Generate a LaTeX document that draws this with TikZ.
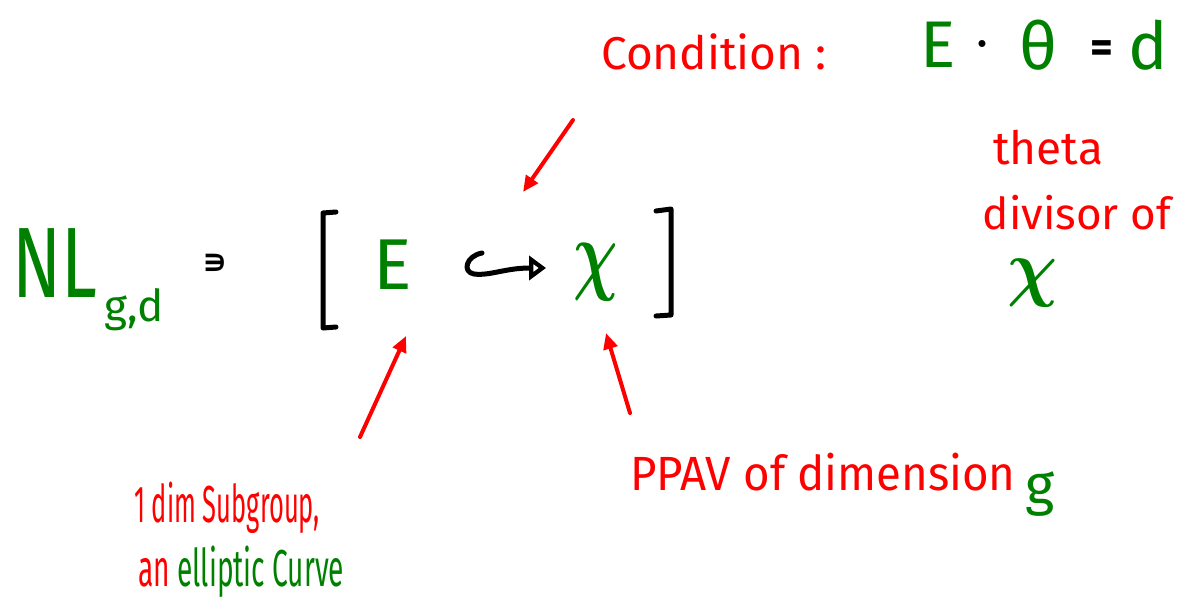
\documentclass[tikz,border=0pt]{standalone}
\usepackage{fontspec}
\usepackage{graphicx}
\setmainfont{Fira Sans}
\newfontfamily\symfont{DejaVu Sans}
\usetikzlibrary{arrows.meta}
\newcommand\fsz[1]{\fontsize{#1}{#1}\selectfont}
\newcommand\hchi[2]{\scalebox{#1}[#2]{\normalsize\boldmath$\chi$}}
\definecolor{hgreen}{RGB}{0,128,0}
\definecolor{hred}{RGB}{255,0,0}
\tikzset{
  lbl/.style={inner sep=0pt, anchor=center},
  redtxt/.style={lbl, text=hred},
  greentxt/.style={lbl, text=hgreen},
  redarrow/.style={draw=hred, line width=4pt, line cap=round, -{Triangle[length=16pt,width=14pt]}},
  bracket/.style={draw=black, line width=5pt, line cap=round, line join=round},
  hookarrow/.style={draw=black, line width=5pt, line cap=round, line join=round, -{Triangle[open,length=17pt,width=24pt]}},
}
\begin{document}
\begin{tikzpicture}[x=1pt,y=-1pt]
\useasboundingbox (0,0) rectangle (1186,614);
% top condition
\node[redtxt, font=\fsz{46}] (cond) at (714,52) {Condition :};
\node[greentxt, font=\fsz{66}] (cE) at (938,45) {E};
\node[lbl, font=\fsz{50}] (cdot) at (982,50) {·};
\node[greentxt, font=\fsz{66}] (cth) at (1038,45) {θ};
\node[lbl, font=\fsz{44}\bfseries] (ceq) at (1102,52) {=};
\node[greentxt, font=\fsz{66}] (cd) at (1148,45) {d};
% theta divisor
\node[redtxt, font=\fsz{46}] (theta) at (1048,148) {theta};
\node[redtxt, font=\fsz{44}] (divof) at (1077,213) {divisor of};
\node[greentxt, anchor=base] (X2) at (1033,292) {\hchi{7}{7.5}};
% main
\node[greentxt, font=\fsz{100}] (NL) at (55,263) {\scalebox{0.72}[1]{NL}};
\node[greentxt, font=\fsz{44}, anchor=west] (gd) at (104,310) {g,d};
\node[lbl, font=\fsz{34}\symfont\bfseries] (ni) at (215,264) {∍};
\draw[bracket] (336,212) -- (323,213) -- (323,328) -- (336,327);
\node[greentxt, font=\fsz{72}] (E) at (393,265) {E};
\node[greentxt, anchor=base] (X) at (596,283) {\hchi{6.2}{9}};
\draw[bracket] (656,211) -- (671,209) -- (671,315) -- (656,316);
\coordinate (hs) at (482,253);
\coordinate (he) at (546,268);
\draw[hookarrow] (hs) .. controls (466,256) and (462,272) .. (474,274) .. controls (490,276) and (505,268) .. (he);
% labels below
\node[redtxt, font=\fsz{52}, anchor=west] (sub) at (134,508) {\scalebox{0.49}[1]{1 dim Subgroup,}};
\node[lbl, font=\fsz{52}, anchor=west] (ell) at (138,572) {\scalebox{0.54}[1]{\textcolor{hred}{an} \textcolor{hgreen}{elliptic Curve}}};
\node[redtxt, font=\fsz{48}, anchor=west] (ppav) at (630,472) {\scalebox{0.95}[1]{PPAV of dimension}};
\node[greentxt, font=\fsz{56}] (g) at (1040,494) {g};
% arrows
\coordinate (a1s) at (573,120);
\coordinate (a1e) at (523,192);
\coordinate (a2s) at (360,437);
\coordinate (a2e) at (406,336);
\coordinate (a3s) at (630,413);
\coordinate (a3e) at (606,333);
\draw[redarrow] (a1s) -- (a1e);
\draw[redarrow] (a2s) -- (a2e);
\draw[redarrow] (a3s) -- (a3e);
\end{tikzpicture}
\end{document}
